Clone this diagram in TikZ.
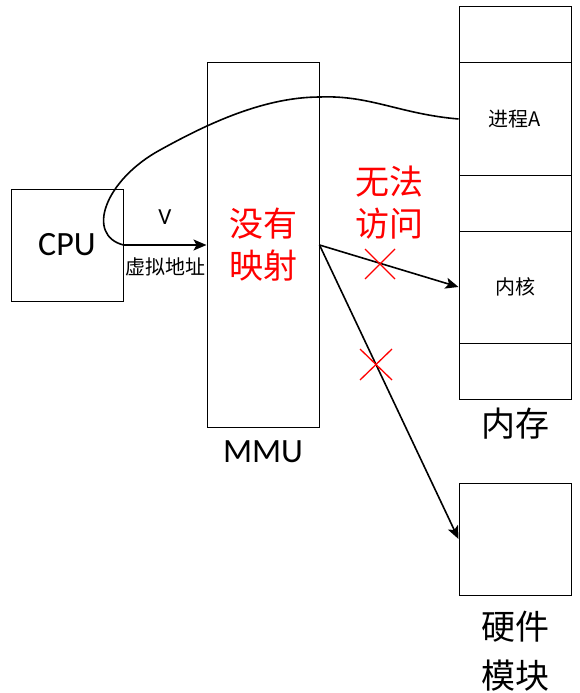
\documentclass[tikz,border=0pt]{standalone}
\usepackage{fontspec}
\setmainfont{Noto Sans CJK SC}
\newfontfamily\latfont{Carlito}
\usetikzlibrary{positioning,arrows.meta}
\tikzset{
  box/.style={draw, line width=1pt, inner sep=0pt, minimum width=112pt},
  link/.style={line width=1.6pt},
  tip/.style={-{Stealth[length=13pt,width=11pt,inset=3pt]}},
  nope/.style={draw=red, line width=1.3pt},
  big/.style={font=\fontsize{34}{42}\selectfont, align=center},
  small/.style={font=\fontsize{20}{24}\selectfont},
}

\begin{document}
\begin{tikzpicture}[x=1pt,y=-1pt]
  \useasboundingbox (0,0) rectangle (579,693);

  %% CPU and MMU
  \node[box, minimum height=112pt] (cpu) at (67,245) {\latfont\fontsize{34}{40}\selectfont CPU};
  \node[box, minimum height=364pt] (mmu) at (263,245) {};
  \node[big, text=red] (nomap) at (263,245) {没有\\映射};
  \node (mmulabel) at (263,452) {\latfont\fontsize{34}{40}\selectfont MMU};

  %% memory
  \node[box, minimum height=56pt]  (m1) at (515,35) {};
  \node[box, minimum height=112pt] (m2) at (515,119) {};
  \node[box, minimum height=56pt]  (m3) at (515,203) {};
  \node[box, minimum height=112pt] (m4) at (515,287) {};
  \node[box, minimum height=56pt]  (m5) at (515,371) {};
  \node[small] at (m2) {进程A};
  \node[small] at (m4) {内核};
  \node[big] (memlabel) at (515,424) {内存};

  %% hardware
  \node[box, minimum height=112pt] (hw) at (515,539) {};
  \node[font=\fontsize{34}{49}\selectfont, align=center] (hwlabel) at (515,651) {硬件\\模块};

  %% virtual address
  \draw[link, tip] (cpu.east) -- (mmu.west);
  \node (v) at (165,217) {\latfont\fontsize{23}{26}\selectfont V};
  \node[small] (vaddr) at (165,267) {虚拟地址};

  %% process A mapping
  \draw[link] (m2.west) .. controls (400,114) and (370,95) .. (320,97)
    .. controls (260,97) and (200,128) .. (160,150)
    .. controls (105,180) and (85,235) .. (cpu.east);

  %% no access
  \draw[link, tip] (mmu.east) -- (m4.west);
  \draw[link, tip] (mmu.east) -- (hw.west);
  \node[big, text=red] (noaccess) at (389,203) {无法\\访问};
  \draw[nope] (365,249) -- (395,279) (365,279) -- (395,249);
  \draw[nope] (360,349) -- (392,380) (360,380) -- (392,349);

\end{tikzpicture}
\end{document}
